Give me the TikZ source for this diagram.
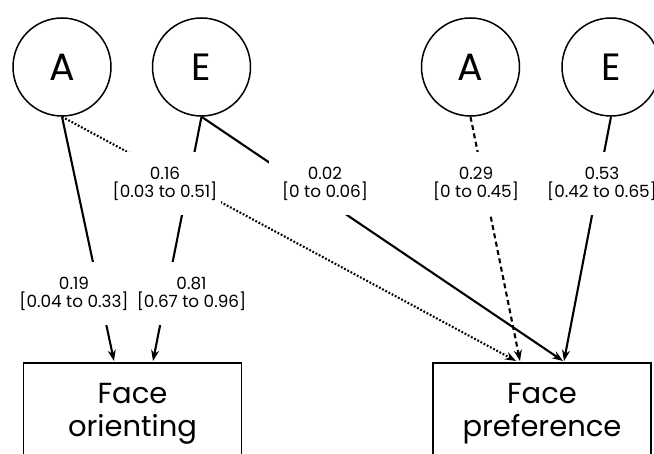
\documentclass[tikz,border=0pt]{standalone}
\usepackage{fontspec}
\setmainfont{Poppins}
\usetikzlibrary{arrows.meta}
\begin{document}
\begin{tikzpicture}[x=1pt,y=-1pt,
  latent/.style={circle,draw,line width=1.5pt,minimum size=98pt,inner sep=0pt,
    font=\fontsize{38}{40}\selectfont},
  observed/.style={rectangle,draw,line width=1.7pt,minimum width=218pt,
    minimum height=102pt,align=center,inner sep=0pt,font=\fontsize{29}{33}\selectfont},
  link/.style={line width=2.1pt,-{Stealth[length=11pt,width=8pt]}},
  linkdash/.style={link,dash pattern=on 5pt off 3.5pt},
  linkdot/.style={link,dash pattern=on 1.8pt off 1.8pt},
  est/.style={fill=white,minimum width=112pt,minimum height=63pt,align=center,
    inner sep=0pt,font=\fontsize{16.8}{18}\selectfont},
]
\useasboundingbox (0,0) rectangle (654,454);
\clip (0,0) rectangle (654,454);

% latent factors
\node[latent] (A1) at (62,67)  {A};
\node[latent] (E1) at (201.5,67) {E};
\node[latent] (A2) at (470.5,67) {A};
\node[latent] (E2) at (611,67) {E};

% observed measures
\node[observed] (FO) at (132.5,414) {Face\\orienting};
\node[observed] (FP) at (542,414) {Face\\preference};

% arrow targets on the top edges
\coordinate (fo1) at (114,361);
\coordinate (fo2) at (153,361);
\coordinate (fp1) at (516,361);
\coordinate (fp2) at (520,361);
\coordinate (fp3) at (563,361);
\coordinate (fp4) at (564,361);

% paths
\draw[link]     (A1.south) -- (fo1);
\draw[link]     (E1.south) -- (fo2);
\draw[linkdot]  (A1.south) -- (fp1);
\draw[linkdash] (A2.south) -- (fp2);
\draw[link]     (E1.south) -- (fp3);
\draw[link]     (E2.south) -- (fp4);

% path estimates
\node[est] (l16) at (165,184) {0.16\\{[}0.03 to 0.51{]}};
\node[est] (l02) at (325,184) {0.02\\{[}0 to 0.06{]}};
\node[est] (l29) at (476,184) {0.29\\{[}0 to 0.45{]}};
\node[est] (l53) at (602,184) {0.53\\{[}0.42 to 0.65{]}};
\node[est] (l19) at (74,294)  {0.19\\{[}0.04 to 0.33{]}};
\node[est] (l81) at (191.5,294) {0.81\\{[}0.67 to 0.96{]}};
\end{tikzpicture}
\end{document}
